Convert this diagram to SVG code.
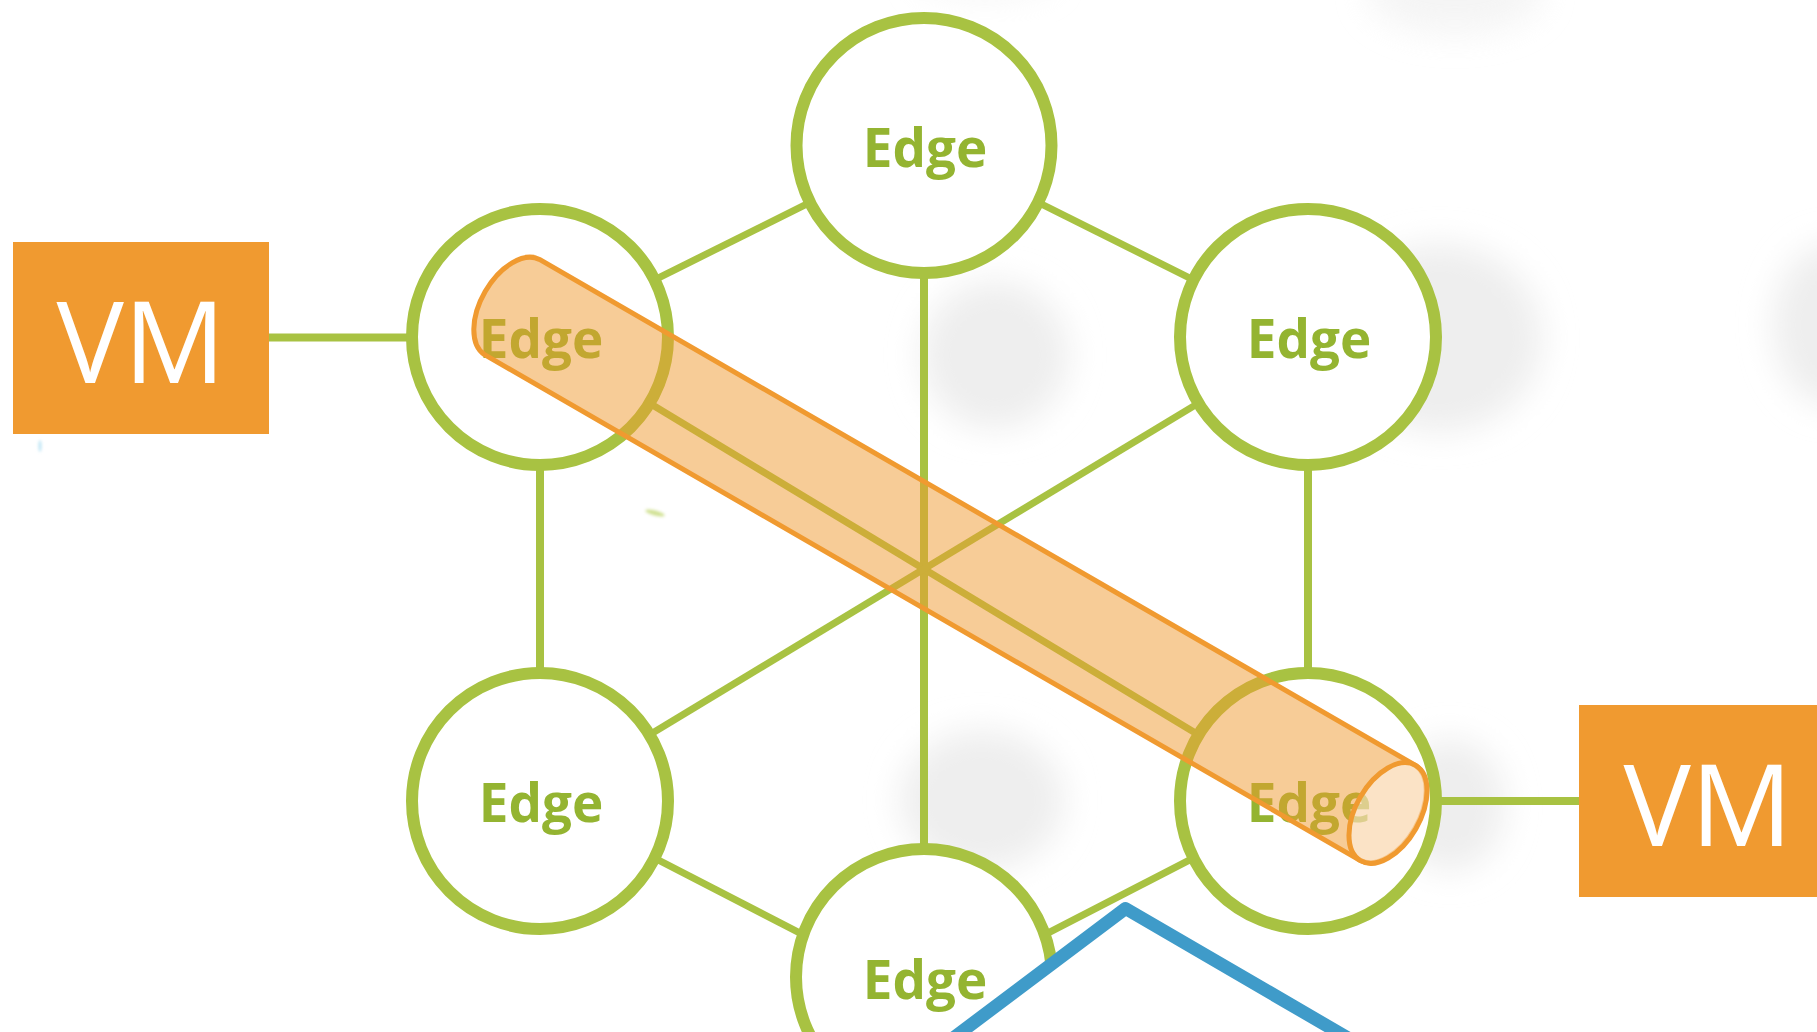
<svg xmlns="http://www.w3.org/2000/svg" width="1817" height="1032" viewBox="0 0 1817 1032">
  <style>
    .ring { fill: #fff; stroke: #A8C242; stroke-width: 12; }
    .edge-label { font-family: "Open Sans", "Noto Sans", sans-serif; font-weight: 700; font-size: 53px; fill: #94B431; text-anchor: middle; }
    .vm-box { fill: #F09A30; }
    .vm-label { font-family: "Open Sans", "Noto Sans", sans-serif; font-weight: 400; font-size: 113px; fill: #fff; text-anchor: middle; }
    .link { stroke: #A8C242; fill: none; }
    .thin { stroke-width: 7; }
    .thick { stroke-width: 8; }
    .haze { fill: #eeeeee; filter: url(#haze-blur); }
  </style>
  <defs>
    <filter id="haze-blur" x="-60%" y="-60%" width="220%" height="220%">
      <feGaussianBlur stdDeviation="16"/>
    </filter>
    <filter id="soft" x="-100%" y="-100%" width="300%" height="300%">
      <feGaussianBlur stdDeviation="1.5"/>
    </filter>
  </defs>
  <rect width="1817" height="1032" fill="#fff"/>

  <g id="background-haze">
    <ellipse class="haze" cx="995" cy="355" rx="74" ry="74"/>
    <ellipse class="haze" cx="1440" cy="338" rx="102" ry="94"/>
    <ellipse class="haze" cx="1835" cy="325" rx="62" ry="82"/>
    <ellipse class="haze" cx="982" cy="800" rx="82" ry="70"/>
    <ellipse class="haze" cx="1450" cy="805" rx="55" ry="66"/>
    <ellipse class="haze" cx="1455" cy="-8" rx="88" ry="42" opacity="0.6"/>
    <ellipse class="haze" cx="985" cy="-22" rx="70" ry="20" opacity="0.5"/>
    <ellipse cx="655" cy="513" rx="10" ry="2.5" fill="#CFE08F" filter="url(#soft)" transform="rotate(15 655 513)"/>
    <ellipse cx="40" cy="446" rx="1.5" ry="6" fill="#BCE4F4" filter="url(#soft)"/>
  </g>

  <g id="connectors">
    <line class="link thin" x1="540" y1="337" x2="924" y2="145.5"/>
    <line class="link thin" x1="924" y1="145.5" x2="1308" y2="337"/>
    <line class="link thin" x1="540" y1="799" x2="924" y2="997"/>
    <line class="link thin" x1="924" y1="997" x2="1308" y2="799"/>
    <line class="link thick" x1="540" y1="337" x2="540" y2="801"/>
    <line class="link thick" x1="1308" y1="337" x2="1308" y2="801"/>
    <line class="link thick" x1="924" y1="145.5" x2="924" y2="977"/>
    <line class="link thin" x1="540" y1="337" x2="1308" y2="801"/>
    <line class="link thin" x1="540" y1="801" x2="1308" y2="337"/>
    <line class="link thick" x1="269" y1="337.5" x2="540" y2="337.5"/>
    <line class="link thick" x1="1308" y1="801" x2="1579" y2="801"/>
  </g>

  <g id="edge-top">
    <circle class="ring" cx="924" cy="145.5" r="127.5"/>
    <text class="edge-label" x="925" y="167">Edge</text>
  </g>
  <g id="edge-upper-left">
    <circle class="ring" cx="540" cy="337" r="128"/>
    <text class="edge-label" x="541" y="358">Edge</text>
  </g>
  <g id="edge-upper-right">
    <circle class="ring" cx="1308" cy="337" r="128"/>
    <text class="edge-label" x="1309" y="358">Edge</text>
  </g>
  <g id="edge-lower-left">
    <circle class="ring" cx="540" cy="801" r="128"/>
    <text class="edge-label" x="541" y="822">Edge</text>
  </g>
  <g id="edge-lower-right">
    <circle class="ring" cx="1308" cy="801" r="128"/>
    <text class="edge-label" x="1309" y="822">Edge</text>
  </g>
  <g id="edge-bottom">
    <circle class="ring" cx="924" cy="977" r="128"/>
    <text class="edge-label" x="925" y="999">Edge</text>
  </g>

  <g id="vm-left">
    <rect class="vm-box" x="13" y="242" width="256" height="192"/>
    <text class="vm-label" x="141" y="382.5">VM</text>
  </g>
  <g id="vm-right">
    <rect class="vm-box" x="1579" y="705" width="238" height="192"/>
    <text class="vm-label" x="1708" y="846">VM</text>
  </g>

  <g id="tunnel">
    <path d="M539.5 259.4 L1415.5 765.4 A55 32 -60 0 1 1360.5 860.6 L484.5 354.6 A55 32 -60 0 1 539.5 259.4 Z" fill="#F09A30" fill-opacity="0.5" stroke="#F09A30" stroke-width="5" stroke-linejoin="round"/>
    <ellipse cx="1388" cy="813" rx="55" ry="32" transform="rotate(-60 1388 813)" fill="#fff" fill-opacity="0.45" stroke="#F09A30" stroke-width="5"/>
  </g>

  <g id="outer-path">
    <polyline points="940,1048 1125.5,908.5 1372,1052" fill="#fff" stroke="#3F9BC9" stroke-width="13" stroke-linejoin="round"/>
  </g>
</svg>
